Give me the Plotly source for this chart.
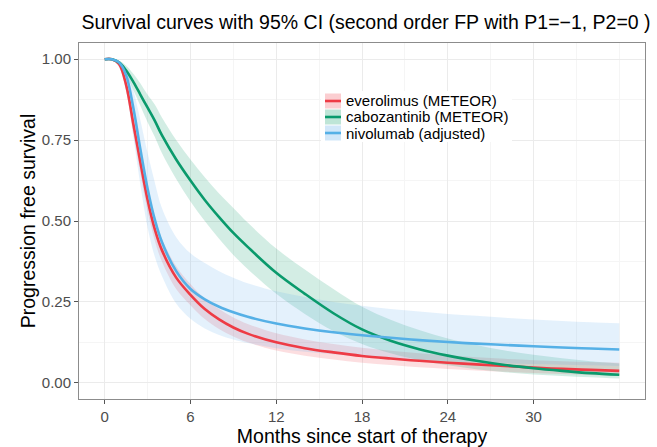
import plotly.graph_objects as go

months = [0, 0.5, 1, 1.5, 2, 2.5, 3, 3.5, 4, 5, 6, 7, 8, 9, 10, 12, 14, 16, 18, 20, 22, 24, 26, 28, 30, 32, 34, 36]

evero = [1, 1, 0.985, 0.92, 0.80, 0.68, 0.565, 0.475, 0.41, 0.325, 0.272, 0.228, 0.196, 0.171, 0.152, 0.125, 0.107, 0.094, 0.083, 0.075, 0.068, 0.062, 0.057, 0.052, 0.047, 0.043, 0.040, 0.037]
evero_lo = [1, 1, 0.98, 0.90, 0.77, 0.645, 0.53, 0.44, 0.375, 0.29, 0.24, 0.197, 0.166, 0.143, 0.125, 0.100, 0.084, 0.072, 0.062, 0.055, 0.048, 0.043, 0.038, 0.034, 0.030, 0.027, 0.024, 0.022]
evero_hi = [1, 1, 0.99, 0.94, 0.83, 0.715, 0.60, 0.51, 0.445, 0.36, 0.305, 0.26, 0.228, 0.202, 0.182, 0.153, 0.134, 0.120, 0.108, 0.099, 0.091, 0.085, 0.079, 0.074, 0.070, 0.067, 0.064, 0.062]

cabo = [1, 1, 0.99, 0.965, 0.93, 0.89, 0.85, 0.81, 0.765, 0.69, 0.625, 0.565, 0.512, 0.463, 0.42, 0.34, 0.275, 0.215, 0.165, 0.130, 0.104, 0.084, 0.068, 0.055, 0.045, 0.037, 0.030, 0.025]
cabo_lo = [1, 1, 0.985, 0.95, 0.905, 0.855, 0.805, 0.76, 0.71, 0.63, 0.56, 0.50, 0.445, 0.395, 0.352, 0.275, 0.213, 0.160, 0.120, 0.091, 0.070, 0.054, 0.042, 0.033, 0.026, 0.021, 0.017, 0.013]
cabo_hi = [1, 1, 0.995, 0.98, 0.955, 0.925, 0.89, 0.86, 0.82, 0.75, 0.69, 0.635, 0.585, 0.54, 0.495, 0.415, 0.35, 0.29, 0.235, 0.195, 0.163, 0.137, 0.117, 0.100, 0.087, 0.076, 0.067, 0.060]

nivo = [1, 1, 0.99, 0.95, 0.85, 0.72, 0.60, 0.505, 0.435, 0.345, 0.290, 0.258, 0.235, 0.218, 0.204, 0.183, 0.168, 0.156, 0.147, 0.139, 0.132, 0.126, 0.121, 0.117, 0.113, 0.109, 0.106, 0.103]
nivo_lo = [1, 1, 0.975, 0.90, 0.76, 0.61, 0.48, 0.39, 0.33, 0.245, 0.198, 0.168, 0.148, 0.134, 0.123, 0.107, 0.096, 0.088, 0.081, 0.076, 0.071, 0.067, 0.064, 0.061, 0.058, 0.056, 0.054, 0.052]
nivo_hi = [1, 1, 0.995, 0.97, 0.905, 0.81, 0.71, 0.62, 0.54, 0.45, 0.40, 0.37, 0.345, 0.325, 0.308, 0.283, 0.265, 0.25, 0.238, 0.228, 0.22, 0.213, 0.207, 0.201, 0.196, 0.191, 0.187, 0.184]

names = ["everolimus (METEOR)", "cabozantinib (METEOR)", "nivolumab (adjusted)"]
line_colors = ["#EE3B45", "#0A9A6C", "#55B0E6"]
band_colors = ["rgba(240,80,90,0.19)", "rgba(20,160,110,0.19)", "rgba(90,170,235,0.16)"]
key_colors = ["rgba(240,80,90,0.28)", "rgba(20,160,110,0.28)", "rgba(90,170,235,0.28)"]

x_ticks = [0, 6, 12, 18, 24, 30]
y_ticks = [0.0, 0.25, 0.5, 0.75, 1.0]
y_tick_text = ["0.00", "0.25", "0.50", "0.75", "1.00"]

series = [(evero, evero_lo, evero_hi), (cabo, cabo_lo, cabo_hi), (nivo, nivo_lo, nivo_hi)]

W, H = 657, 447
ML, MR, MT, MB = 79, 12, 43, 48
PW, PH = W - ML - MR, H - MT - MB


def px_x(p):
    return (p - ML) / PW


def px_y(p):
    return (H - MB - p) / PH


fig = go.Figure()

# confidence bands
for (mid, lo, hi), bc in zip(series, band_colors):
    fig.add_trace(go.Scatter(x=months, y=lo, mode="lines", line=dict(width=0, shape="spline"),
                             showlegend=False, hoverinfo="skip"))
    fig.add_trace(go.Scatter(x=months, y=hi, mode="lines", line=dict(width=0, shape="spline"),
                             fill="tonexty", fillcolor=bc, showlegend=False, hoverinfo="skip"))

# survival curves
for (mid, lo, hi), lc, nm in zip(series, line_colors, names):
    fig.add_trace(go.Scatter(x=months, y=mid, mode="lines", name=nm,
                             line=dict(color=lc, width=2.6, shape="spline"), showlegend=False))

# legend drawn as keys + text
shapes = [dict(type="rect", xref="paper", yref="paper", layer="above",
               x0=px_x(321), x1=px_x(512), y0=px_y(91), y1=px_y(142),
               fillcolor="white", line=dict(width=0))]
annotations = []
row_y = [101, 117, 133]
for ry, lc, kc, nm in zip(row_y, line_colors, key_colors, names):
    shapes.append(dict(type="rect", xref="paper", yref="paper", layer="above",
                       x0=px_x(325), x1=px_x(341), y0=px_y(ry + 7.5), y1=px_y(ry - 7.5),
                       fillcolor=kc, line=dict(width=0)))
    shapes.append(dict(type="line", xref="paper", yref="paper", layer="above",
                       x0=px_x(325), x1=px_x(341), y0=px_y(ry), y1=px_y(ry),
                       line=dict(color=lc, width=2.6)))
    annotations.append(dict(text=nm, xref="paper", yref="paper", x=px_x(344), y=px_y(ry),
                            xanchor="left", yanchor="middle", showarrow=False,
                            font=dict(size=15, color="#000000")))

grid_major = "#EBEBEB"
grid_minor = "#F5F5F5"

fig.update_layout(
    width=W, height=H,
    margin=dict(l=ML, r=MR, t=MT, b=MB),
    paper_bgcolor="white", plot_bgcolor="white",
    font=dict(family="Liberation Sans, Arial, sans-serif", color="#000000"),
    title=dict(text="Survival curves with 95% CI (second order FP with P1=\u22121, P2=0 )",
               x=366 / W, xanchor="center", y=1 - 22 / H, yanchor="middle",
               font=dict(size=19.5, color="#000000")),
    showlegend=False,
    shapes=shapes,
    annotations=annotations,
    xaxis=dict(range=[-1.8, 37.8], tickvals=x_ticks, ticktext=[str(v) for v in x_ticks],
               automargin=False,
               showgrid=True, gridcolor=grid_major, gridwidth=1,
               minor=dict(dtick=3, tick0=3, showgrid=True, gridcolor=grid_minor, gridwidth=1),
               zeroline=False, showline=True, mirror=True, linecolor="#8C8C8C", linewidth=1,
               ticks="outside", ticklen=4, tickcolor="#555555",
               tickfont=dict(size=15, color="#4D4D4D"),
               title=dict(text="Months since start of therapy", font=dict(size=19.5), standoff=4)),
    yaxis=dict(range=[-0.05, 1.05], tickvals=y_ticks, ticktext=y_tick_text,
               automargin=False,
               showgrid=True, gridcolor=grid_major, gridwidth=1,
               minor=dict(dtick=0.25, tick0=0.125, showgrid=True, gridcolor=grid_minor, gridwidth=1),
               zeroline=False, showline=True, mirror=True, linecolor="#8C8C8C", linewidth=1,
               ticks="outside", ticklen=4, tickcolor="#555555",
               tickfont=dict(size=15, color="#4D4D4D"),
               title=dict(text="Progression free survival", font=dict(size=19.5), standoff=0)),
)

fig.write_html("out.html", config={"displayModeBar": False},
               post_script="document.body.style.margin='0';")
